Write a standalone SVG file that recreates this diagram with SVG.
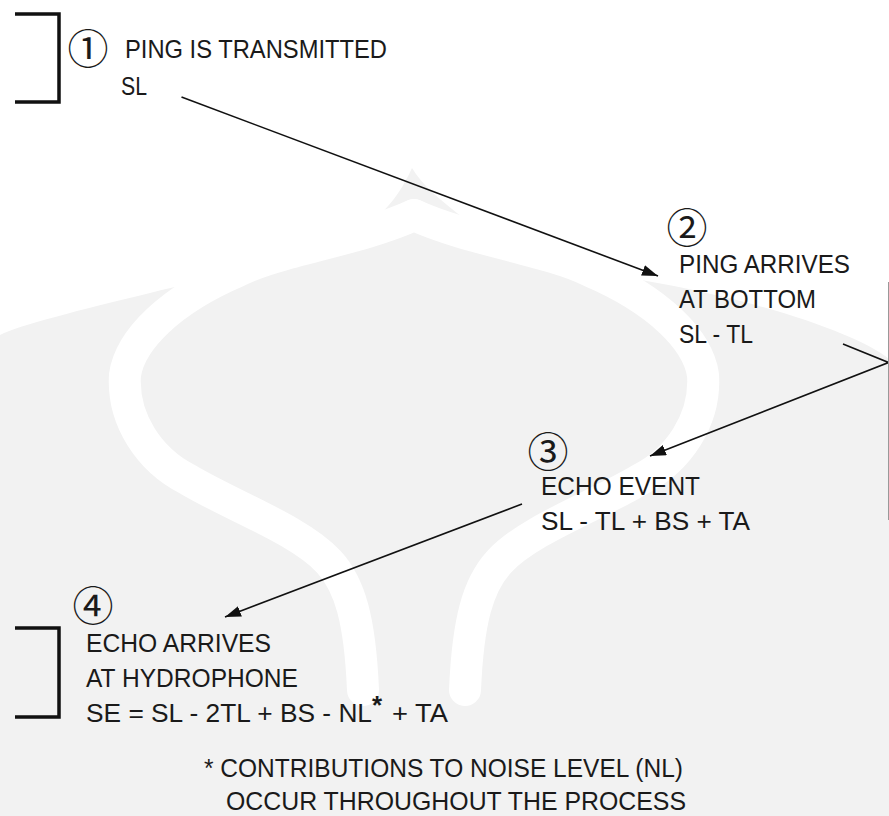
<svg xmlns="http://www.w3.org/2000/svg" width="889" height="816" viewBox="0 0 889 816">
<style>
.t{font-family:"Liberation Sans",Arial,sans-serif;font-size:26px;fill:#1a1a1a}
.n{font-family:"Noto Sans CJK SC","DejaVu Sans",sans-serif;font-size:41px;fill:#1a1a1a;text-anchor:middle}
.br{fill:none;stroke:#111;stroke-width:3.5;stroke-linejoin:miter}
.ln{fill:none;stroke:#111;stroke-width:1.6}
.wm{fill:#f2f2f2}
.wb{fill:none;stroke:#fff;stroke-width:32;stroke-linecap:round}
</style>
<defs>
<marker id="ah" markerUnits="userSpaceOnUse" viewBox="0 0 16 11" markerWidth="16" markerHeight="11" refX="16" refY="5.5" orient="auto">
<path d="M0,0 L16,5.5 L0,11 Z" fill="#111"/>
</marker>
</defs>
<rect width="889" height="816" fill="#fff"/>
<g id="watermark">
<path class="wm" d="M412,168 C395,205 375,225 330,245 C270,270 200,280 150,293 C80,310 20,325 0,335 L0,816 L889,816 L889,359 C860,335 760,300 641,280 C560,266 500,250 466,220 C440,200 422,185 412,168 Z"/>
<path class="wb" d="M414,215 C360,240 280,250 238,271 C170,300 130,340 125,375 C122,420 150,460 187,479 C230,505 300,530 329,562 C350,585 360,620 363,690"/>
<path class="wb" d="M414,215 C468,240 548,250 590,271 C658,300 698,340 703,375 C706,420 678,460 641,479 C598,505 528,530 499,562 C478,585 468,620 465,690"/>
</g>
<g id="connectors">
<line class="ln" x1="181.5" y1="97" x2="658" y2="276" marker-end="url(#ah)"/>
<polyline class="ln" points="843,344 888.5,362.5 650,456" marker-end="url(#ah)"/>
<line class="ln" x1="522" y1="504" x2="225" y2="617" marker-end="url(#ah)"/>
<line x1="888.5" y1="282" x2="888.5" y2="520" stroke="#999" stroke-width="1"/>
</g>
<g id="step1">
<path class="br" d="M15,14 H59 V102 H15"/>
<text class="n" x="88" y="63.5">①</text>
<text class="t" x="125" y="57.5" textLength="262" lengthAdjust="spacingAndGlyphs">PING IS TRANSMITTED</text>
<text class="t" x="121" y="94.5" textLength="26" lengthAdjust="spacingAndGlyphs">SL</text>
</g>
<g id="step2">
<text class="n" x="687" y="242.5">②</text>
<text class="t" x="679" y="272.5" textLength="171" lengthAdjust="spacingAndGlyphs">PING ARRIVES</text>
<text class="t" x="679" y="307.5" textLength="137" lengthAdjust="spacingAndGlyphs">AT BOTTOM</text>
<text class="t" x="679" y="343" textLength="74" lengthAdjust="spacingAndGlyphs">SL - TL</text>
</g>
<g id="step3">
<text class="n" x="548" y="466.5">③</text>
<text class="t" x="541" y="495" textLength="159" lengthAdjust="spacingAndGlyphs">ECHO EVENT</text>
<text class="t" x="541" y="530" textLength="209" lengthAdjust="spacingAndGlyphs">SL - TL + BS + TA</text>
</g>
<g id="step4">
<path class="br" d="M15,628 H59 V717 H15"/>
<text class="n" x="93" y="621">④</text>
<text class="t" x="86" y="651.5" textLength="185" lengthAdjust="spacingAndGlyphs">ECHO ARRIVES</text>
<text class="t" x="86" y="687" textLength="212" lengthAdjust="spacingAndGlyphs">AT HYDROPHONE</text>
<text class="t" x="86" y="721.5" textLength="286" lengthAdjust="spacingAndGlyphs">SE = SL - 2TL + BS - NL</text>
<text class="t" x="372" y="714" font-weight="bold">*</text>
<text class="t" x="392" y="721.5" textLength="56" lengthAdjust="spacingAndGlyphs">+ TA</text>
</g>
<g id="footnote">
<text class="t" x="204" y="777" textLength="479" lengthAdjust="spacingAndGlyphs">* CONTRIBUTIONS TO NOISE LEVEL (NL)</text>
<text class="t" x="226" y="810" textLength="460" lengthAdjust="spacingAndGlyphs">OCCUR THROUGHOUT THE PROCESS</text>
</g>
</svg>
